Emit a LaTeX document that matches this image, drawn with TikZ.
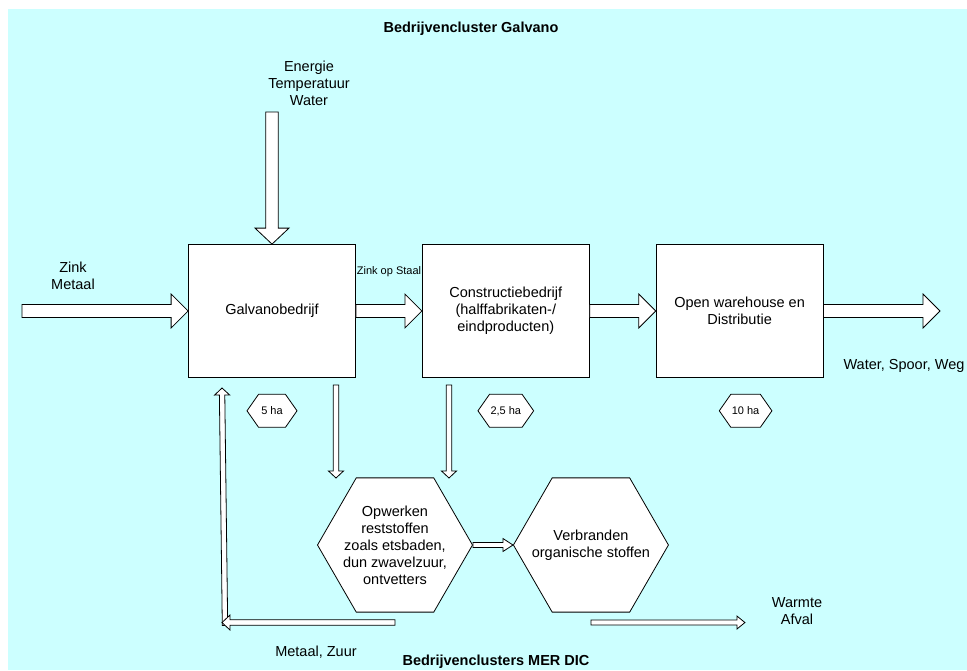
\documentclass[tikz,border=0pt]{standalone}
\usepackage{fontspec}
\setmainfont{Liberation Sans}
\usetikzlibrary{calc,positioning,shapes.symbols,shapes.geometric}
\definecolor{clusterbg}{RGB}{204,255,255}
\tikzstyle{unit} = [draw, fill=white, minimum width=167, minimum height=133, align=center]
\tikzstyle{cell} = [draw, fill=white, regular polygon, regular polygon sides=6,
                    minimum size=155, inner sep=0]
\tikzstyle{area} = [draw, fill=white, signal, signal to=east and west, signal pointer angle=110,
                    minimum width=50, minimum height=33, inner sep=1, font=\fontsize{11}{13}\selectfont]
\tikzstyle{flow line} = [draw=black, fill=white, line join=miter]

% block arrow: start, end, half shaft, half head, head length
\newcommand{\flow}[5]{%
  \coordinate (fh) at ($(#2)!#5!(#1)$);
  \path[flow line] ($(#1)!#3!90:(#2)$) -- ($(fh)!#3!90:(#2)$) -- ($(fh)!#4!90:(#2)$) -- (#2)
     -- ($(fh)!#4!-90:(#2)$) -- ($(fh)!#3!-90:(#2)$) -- ($(#1)!#3!-90:(#2)$) -- cycle;}

\begin{document}
\begin{tikzpicture}[x=1pt, y=-1pt, line width=0.8pt,
                    font=\fontsize{14.5}{17}\selectfont
                    ]
\tikzstyle{bold} = [font=\fontsize{14.5}{17}\selectfont\bfseries]

    \useasboundingbox (0,0) rectangle (967,670);
    \fill[white] (0,0) rectangle (967,670);
    \fill[clusterbg] (8,9) rectangle (967,670);

    \node[bold] (top title) at (471,29) {Bedrijvencluster Galvano};
    \node[bold] (bottom title) at (496,662) {Bedrijvenclusters MER DIC};

    % main chain
    \node[unit] (galvano) at (272,311) {Galvanobedrijf};
    \node[unit, right=66pt of galvano] (constructie) {Constructiebedrijf\\(halffabrikaten-/\\eindproducten)};
    \node[unit, right=66pt of constructie] (warehouse) {Open warehouse en\\Distributie};

    \node[area, below=16pt of galvano] (ha galvano) {5 ha};
    \node[area, below=16pt of constructie] (ha constructie) {2,5 ha};
    \node[area, below=16pt of warehouse, xshift=6pt] (ha warehouse) {10 ha};

    % MER DIC part
    \node[cell, label={[align=center]center:Opwerken\\reststoffen\\zoals etsbaden,\\dun zwavelzuur,\\ontvetters}]
        (opwerken) at (395,545) {};
    \node[cell, right=40pt of opwerken, label={[align=center]center:Verbranden\\organische stoffen}]
        (verbranden) {};

    \node[align=center] (inputs) at (309,83) {Energie\\Temperatuur\\Water};
    \node[align=center] (zink) at (73,276) {Zink\\Metaal};
    \node[font=\fontsize{11}{13}\selectfont] (product) at (389,272) {Zink op Staal};
    \node (transport) at (904,366) {Water, Spoor, Weg};
    \node (metaal) at (316,652) {Metaal, Zuur};
    \node[align=center] (warmte) at (797,611) {Warmte\\Afval};

    \coordinate (zink start) at (22,311);
    \coordinate (inputs start) at (272,112);
    \coordinate (out end) at (940,311);
    \coordinate (g down) at (336,385);
    \coordinate (g down end) at (336,478);
    \coordinate (c down) at (449,385);
    \coordinate (c down end) at (449,478);
    \coordinate (terug) at ([yshift=-10pt]opwerken.south);
    \coordinate (terug hoek) at ($(terug)+(-173,0)$);
    \coordinate (terug voet) at ($(terug hoek)+(3,3)$);
    \coordinate (terug top) at (222,388);
    \coordinate (afval) at ([yshift=-10pt]verbranden.south);
    \coordinate (afval end) at ($(afval)+(154,0)$);

    \flow{zink start}{galvano.west}{6.5pt}{17pt}{17pt}
    \flow{inputs start}{galvano.north}{6.3pt}{17pt}{16pt}
    \flow{galvano.east}{constructie.west}{6.5pt}{17pt}{17pt}
    \flow{constructie.east}{warehouse.west}{6.5pt}{17pt}{17pt}
    \flow{warehouse.east}{out end}{6.5pt}{17pt}{17pt}

    \flow{g down}{g down end}{2.7pt}{7.5pt}{7pt}
    \flow{c down}{c down end}{2.7pt}{7.5pt}{7pt}
    \flow{opwerken.east}{verbranden.west}{2.5pt}{6.5pt}{10pt}
    \flow{terug voet}{terug top}{2.7pt}{7.5pt}{7pt}
    \flow{terug}{terug hoek}{2.7pt}{7.5pt}{8pt}
    \flow{afval}{afval end}{2.5pt}{6.5pt}{8pt}

\end{tikzpicture}
\end{document}
